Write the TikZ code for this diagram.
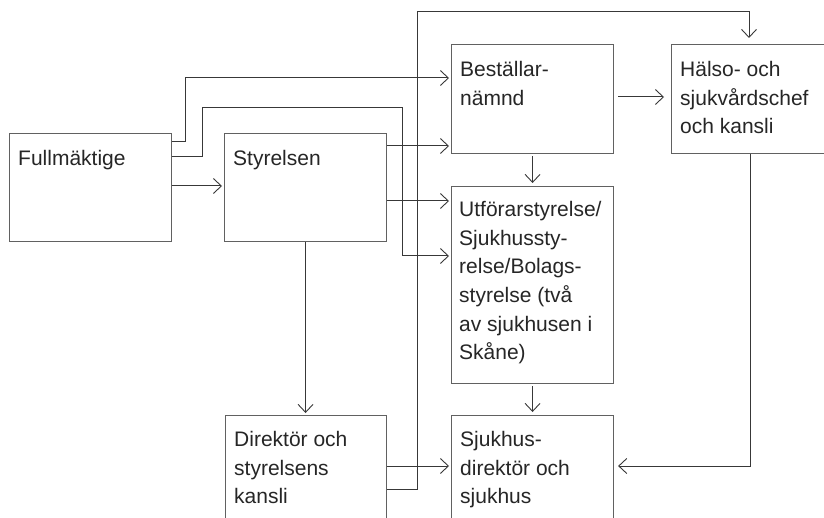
\documentclass[tikz,border=0pt]{standalone}
\usepackage{fontspec}
\setmainfont{Liberation Sans}
\usetikzlibrary{arrows.meta,calc}
\begin{document}
\begin{tikzpicture}[x=1pt,y=-1pt,
  box/.style={draw=black!62,line width=1.1pt,rectangle,anchor=north west,inner sep=0pt},
  txt/.style={anchor=north west,align=left,inner sep=0pt,text=black!85,font=\fontsize{21}{28.7}\selectfont,execute at begin node=\rule{0pt}{16pt}},
  arr/.style={draw=black!78,line width=1pt,-{Straight Barb[length=8pt,width=15pt,line width=0.9pt]},shorten >=2pt}]
\clip (0,0) rectangle (824,518);
\fill[white] (0,0) rectangle (824,518);
% boxes
\node[box,minimum width=162,minimum height=108] (full) at (9,133) {};
\node[box,minimum width=162,minimum height=108] (styr) at (224,133) {};
\node[box,minimum width=162,minimum height=109] (best) at (451,44) {};
\node[box,minimum width=175,minimum height=109] (halso) at (671,44) {};
\node[box,minimum width=162,minimum height=197] (utf) at (451,186) {};
\node[box,minimum width=161,minimum height=130] (dir) at (225,415) {};
\node[box,minimum width=162,minimum height=130] (sjuk) at (451,415) {};
% texts
\node[txt] (tfull) at ($(full.north west)+(9,16)$) {Fullmäktige};
\node[txt] (tstyr) at ($(styr.north west)+(9,16)$) {Styrelsen};
\node[txt] (tbest) at ($(best.north west)+(9,17)$) {Beställar-\\nämnd};
\node[txt] (thalso) at ($(halso.north west)+(9,17)$) {Hälso- och\\sjukvårdschef\\och kansli};
\node[txt] (tutf) at ($(utf.north west)+(8,15)$) {Utförarstyrelse/\\Sjukhussty-\\relse/Bolags-\\styrelse (två\\av sjukhusen i\\Skåne)};
\node[txt] (tdir) at ($(dir.north west)+(9,16)$) {Direktör och\\styrelsens\\kansli};
\node[txt] (tsjuk) at ($(sjuk.north west)+(9,16)$) {Sjukhus-\\direktör och\\sjukhus};
% connectors
\draw[arr] ($(full.north east)+(0,9)$) -| (185,78) -- ($(best.north west)+(0,34)$);
\draw[arr] ($(full.north east)+(0,24)$) -| (202,108) -| (402,256) -- ($(utf.north west)+(0,70)$);
\draw[arr] ($(full.north east)+(0,53)$) -- ($(styr.north west)+(0,53)$);
\draw[arr] ($(styr.north east)+(0,13)$) -- ($(best.north west)+(0,102)$);
\draw[arr] ($(styr.north east)+(0,68)$) -- ($(utf.north west)+(0,15)$);
\draw[arr] (styr.south) -- (styr.south |- dir.north);
\draw[arr,shorten <=2pt,shorten >=3pt] (best.south) -- (best.south |- utf.north);
\draw[arr,shorten <=4pt,shorten >=7pt] ($(best.north east)+(0,53)$) -- ($(halso.north west)+(0,53)$);
\draw[arr,shorten <=2pt,shorten >=3pt] (utf.south) -- (utf.south |- sjuk.north);
\draw[arr,shorten >=4pt] ($(halso.south west)+(79,0)$) |- ($(sjuk.north east)+(0,51)$);
\draw[arr] ($(dir.north east)+(0,51)$) -- ($(sjuk.north west)+(0,51)$);
\draw[arr,shorten >=6pt] ($(dir.north east)+(0,74)$) -| (417,12) -| ($(halso.north west)+(78,0)$);
\end{tikzpicture}
\end{document}
